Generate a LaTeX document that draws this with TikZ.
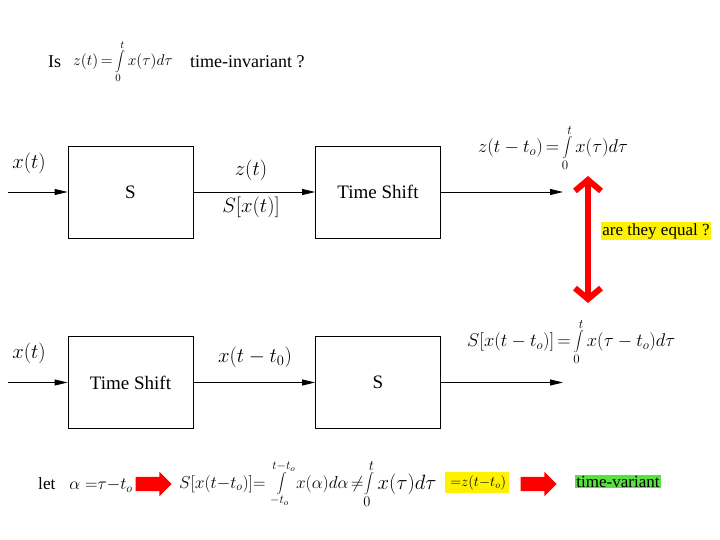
\documentclass[tikz,border=0pt]{standalone}
\usepackage{fix-cm}
\usepackage{fontspec}
\setmainfont{Liberation Serif}
\usetikzlibrary{arrows.meta,shapes.arrows,positioning}
\definecolor{hlgreen}{RGB}{88,226,64}

\tikzset{
  block/.style={draw, line width=0.8pt, minimum width=125pt, minimum height=92pt,
    font=\fontsize{19}{22}\selectfont},
  sig/.style={-{Triangle[length=13pt,width=6pt]}, line width=0.8pt},
  lbl/.style={font=\fontsize{20.7}{24}\selectfont},
  txt/.style={font=\fontsize{17}{20}\selectfont},
  eq/.style={anchor=west, inner sep=0pt, font=\fontsize{#1}{#1}\selectfont},
  fatarrow/.style={single arrow, fill=red, draw=none, inner xsep=0pt, inner ysep=7pt,
    minimum height=36pt, single arrow head extend=5pt},
}

\begin{document}
\begin{tikzpicture}[x=1pt,y=-1pt]
  \useasboundingbox (0,0) rectangle (720,540);

  % Title
  \node[eq=18] (is) at (48,62) {Is};
  \node[eq=15.5] (tform) at (73,62) {$z(t)\,{=}\displaystyle\int\limits_0^t x(\tau)d\tau$};
  \node[eq=18] (tinv) at (190,62) {time-invariant ?};

  % Top row: S then time shift
  \node[block] (s1)  at (130.5,192) {S};
  \node[block] (ts1) at (378,192) {Time Shift};
  \coordinate (in1)  at (8,192);
  \coordinate (out1) at (563,192);
  \draw[sig] (in1) -- (s1);
  \draw[sig] (s1) -- (ts1);
  \draw[sig] (ts1) -- (out1);
  \node[lbl] (x1)  at (29,163) {$x(t)$};
  \node[lbl] (z1)  at (251,170) {$z(t)$};
  \node[lbl] (sx1) at (251,207) {$S[x(t)]$};
  \node[eq=18.5] (zeq) at (478,148)
    {$z(t-t_o)\,{=}\displaystyle\int\limits_0^t x(\tau)d\tau$};

  % Comparison
  \coordinate (eqtop) at (588,176);
  \coordinate (eqbot) at (588,303);
  \draw[red, line width=6pt, {Straight Barb[length=11pt,width=26pt]}-{Straight Barb[length=11pt,width=26pt]}]
    (eqtop) -- (eqbot);
  \node[txt, fill=yellow, inner sep=1pt] (eqq) at (656,231) {are they equal ?};

  % Bottom row: time shift then S
  \node[block] (ts2) at (130.5,382.5) {Time Shift};
  \node[block] (s2)  at (378,382.5) {S};
  \coordinate (in2)  at (8,382.5);
  \coordinate (out2) at (563,382.5);
  \draw[sig] (in2) -- (ts2);
  \draw[sig] (ts2) -- (s2);
  \draw[sig] (s2) -- (out2);
  \node[lbl] (x2)  at (29,353) {$x(t)$};
  \node[lbl] (xs2) at (255,357) {$x(t-t_0)$};
  \node[eq=18.5] (seq) at (467,342)
    {$S[x(t-t_o)]\,{=}\displaystyle\int\limits_0^t x(\tau-t_o)d\tau$};

  % Conclusion
  \node[eq=17.3] (let) at (38,485) {let\;\; $\alpha\;{=}\tau{-}t_o$};
  \node[fatarrow] (arr1) at (150,484) {};
  \node[eq=17.3] (sx) at (179,484) {$S[x(t{-}t_o)]{=}$};
  \node[eq=17.3] (aint) at (270,484)
    {$\displaystyle\int\limits_{-t_o}^{t-t_o} x(\alpha)d\alpha$};
  \node[eq=17.3] (neq) at (351,484) {$\neq$};
  \node[eq=20.7] (tint) at (364,484) {$\displaystyle\int\limits_0^t x(\tau)d\tau$};
  \node[font=\fontsize{14.4}{18}\selectfont, fill=yellow, inner xsep=3pt, inner ysep=3pt]
    (zsh) at (477,482.5) {$\,{=}z(t{-}t_o)$};
  \node[fatarrow] (arr2) at (535,484) {};
  \node[txt, fill=hlgreen, inner sep=1pt] (tv) at (618,481.5) {time-variant};
\end{tikzpicture}
\end{document}
